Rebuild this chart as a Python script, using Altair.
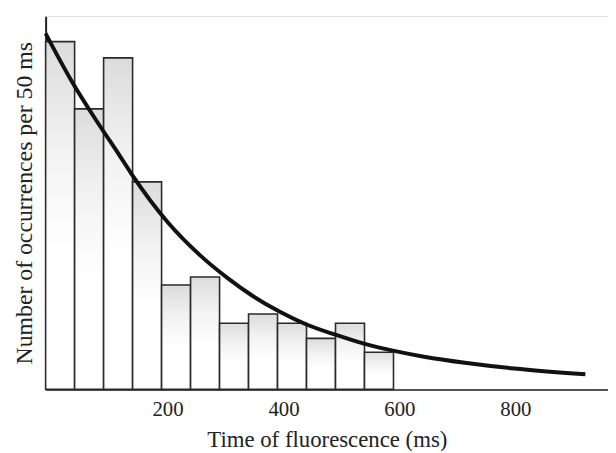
import altair as alt
import pandas as pd

# Histogram bins (ms) and counts per 50 ms
bin_start = [0, 50, 100, 150, 200, 250, 300, 350, 400, 450, 500, 550]
bin_end = [50, 100, 150, 200, 250, 300, 350, 400, 450, 500, 550, 600]
counts = [30.0, 24.2, 28.6, 17.9, 9.0, 9.7, 5.7, 6.5, 5.7, 4.4, 5.7, 3.2]

# Fitted decay curve
curve_t = [0, 46, 90, 126, 148, 211, 268, 314, 356, 404, 450, 501, 552, 603, 655, 723, 808, 931]
curve_n = [30.7, 26.5, 23.0, 20.3, 18.6, 14.4, 11.5, 9.6, 8.1, 6.7, 5.6, 4.7, 3.9, 3.3, 2.8, 2.3, 1.8, 1.3]

x_ticks = [200, 400, 600, 800]

bars_df = pd.DataFrame({"start": bin_start, "end": bin_end, "count": counts})
curve_df = pd.DataFrame({"t": curve_t, "n": curve_n})

FONT = "Liberation Serif"

x_scale = alt.Scale(domain=[0, 970], nice=False, zero=False)
y_scale = alt.Scale(domain=[0, 32.2], nice=False)

x_axis = alt.Axis(
    title="Time of fluorescence (ms)",
    values=x_ticks,
    ticks=False,
    tickSize=0,
    grid=False,
    domainColor="#222",
    domainWidth=1.5,
    labelFont=FONT,
    labelFontSize=21,
    labelColor="#222",
    labelPadding=9,
    labelOffset=6,
    titleFont=FONT,
    titleFontSize=23,
    titleFontWeight="normal",
    titleColor="#222",
    titlePadding=10,
)
y_axis = alt.Axis(
    title="Number of occurrences per 50 ms",
    labels=False,
    ticks=False,
    tickSize=0,
    grid=False,
    domainColor="#222",
    domainWidth=2,
    titleFont=FONT,
    titleFontSize=24,
    titleFontWeight="normal",
    titleColor="#222",
    titlePadding=9,
)

fill = alt.Gradient(
    gradient="linear",
    stops=[
        alt.GradientStop(color="#dcdcdc", offset=0),
        alt.GradientStop(color="#f2f2f2", offset=0.3),
        alt.GradientStop(color="#ffffff", offset=0.6),
    ],
    x1=0, x2=0, y1=0, y2=1,
)

bars = alt.Chart(bars_df).mark_bar(
    fill=fill, stroke="#2a2a2a", strokeWidth=1.6
).encode(
    x=alt.X("start:Q", scale=x_scale, axis=x_axis),
    x2="end:Q",
    y=alt.Y("count:Q", scale=y_scale, axis=y_axis),
    y2=alt.datum(0),
)

curve = alt.Chart(curve_df).mark_line(
    color="#111", strokeWidth=4, interpolate="monotone"
).encode(
    x=alt.X("t:Q", scale=x_scale),
    y=alt.Y("n:Q", scale=y_scale),
)

chart = (
    alt.layer(bars, curve)
    .properties(
        width=568,
        height=377,
        autosize=alt.AutoSizeParams(type="none"),
        padding={"left": 38, "top": 6, "right": 0, "bottom": 60},
    )
    .configure_view(stroke=None)
    .configure(background="white")
)

chart.save("out.html", embed_options={"renderer": "svg", "actions": False})
